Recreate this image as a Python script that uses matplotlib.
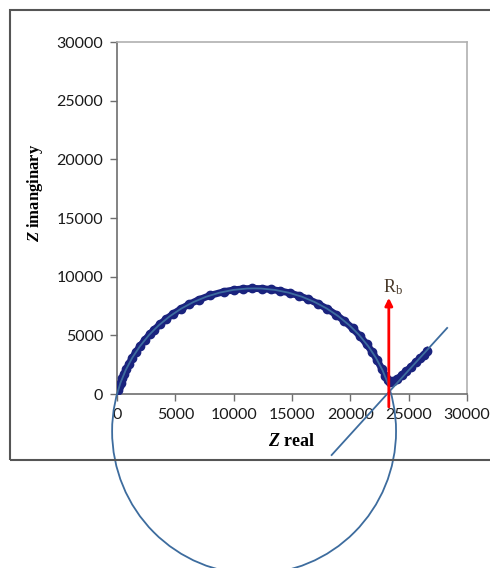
import matplotlib
matplotlib.use('Agg')
import matplotlib.pyplot as plt
from matplotlib.patches import Circle, Rectangle

plt.rcParams['mathtext.fontset'] = 'custom'
plt.rcParams['mathtext.rm'] = 'Liberation Serif'
plt.rcParams['mathtext.it'] = 'Liberation Serif:italic'
plt.rcParams['mathtext.bf'] = 'Liberation Serif:bold'
plt.rcParams['mathtext.bfit'] = 'Liberation Serif:italic:bold'

# measured impedance (Nyquist plot)
z_real = [100, 200, 300, 450, 600, 800, 1000, 1300, 1600, 2000, 2400, 2800,
          3200, 3700, 4200, 4800, 5500, 6200, 7000, 8000, 9200, 10000, 10800,
          11600, 12400, 13200, 14000, 14800, 15600, 16400, 17200, 18000,
          18800, 19500, 20200, 20800, 21400, 21900, 22300, 22700, 23000,
          23200, 23400, 23700, 24000, 24400, 24800, 25200, 25600, 26000,
          26300, 26600]
z_imag = [350, 660, 950, 1350, 1700, 2140, 2530, 3070, 3550, 4110, 4620, 5080,
          5490, 5960, 6380, 6820, 7270, 7660, 8030, 8410, 8730, 8870, 8960,
          9000, 8980, 8910, 8790, 8610, 8380, 8080, 7710, 7270, 6750, 6210,
          5590, 4970, 4250, 3550, 2900, 2140, 1550, 1200, 1030, 1080, 1250,
          1600, 1950, 2300, 2700, 3050, 3350, 3650]

# fitted semicircle and low-frequency tail line
circle_center = (11750, -3170)
circle_radius = 12170
tail_x = [18400, 28300]
tail_y = [-5200, 5630]

# bulk resistance marker
rb_x = 23300
rb_y = [-1100, 8200]

fig = plt.figure(figsize=(4.9, 5.68), dpi=100)
ax = fig.add_axes([0.2388, 0.3063, 0.7142, 0.6197])

fit_color = '#3d6c9e'
ax.plot(z_real, z_imag, '-o', color='#1a237e', lw=5, ms=6, zorder=3)
ax.add_patch(Circle(circle_center, circle_radius, fill=False, ec=fit_color,
                    lw=1.3, clip_on=False, zorder=4))
ax.plot(tail_x, tail_y, color=fit_color, lw=1.3, clip_on=False, zorder=4)

ax.annotate('', xy=(rb_x, rb_y[1]), xytext=(rb_x, rb_y[0]),
            annotation_clip=False, zorder=5,
            arrowprops=dict(arrowstyle='-|>', color='red', lw=2,
                            mutation_scale=11, shrinkA=0, shrinkB=0))
ax.text(rb_x + 400, rb_y[1] + 50, r'R$_\mathrm{b}$', ha='center', va='bottom',
        fontsize=13, family='Liberation Serif', color='#4a3a2a')

ax.set_xlim(0, 30000)
ax.set_ylim(0, 30000)
ax.set_xticks(range(0, 30001, 5000))
ax.set_yticks(range(0, 30001, 5000))

for side in ['top', 'right']:
    ax.spines[side].set_color('#b0b0b0')
for side in ['left', 'bottom']:
    ax.spines[side].set_color('#6e6e6e')
for sp in ax.spines.values():
    sp.set_linewidth(1.2)

ax.tick_params(direction='out', length=5, width=1, color='#6e6e6e',
               labelsize=11.5, pad=5, labelcolor='#1a1a1a')
for lbl in ax.get_xticklabels() + ax.get_yticklabels():
    lbl.set_family('Lato')

ax.set_xlabel(r'$\mathbfit{Z}$ real', family='Liberation Serif',
              fontweight='bold', fontsize=13, labelpad=8)
ax.set_ylabel(r'$\mathbfit{Z}$ imanginary', family='Liberation Serif',
              fontweight='bold', fontsize=12)
ax.yaxis.set_label_coords(-0.205, 0.571)

# outer chart frame
fig.patches.append(Rectangle((10 / 490, 1 - 460 / 568), 1.0, 450 / 568,
                             transform=fig.transFigure, fill=False,
                             ec='#555555', lw=1.5, zorder=0))

fig.savefig('out.png', dpi=100)
